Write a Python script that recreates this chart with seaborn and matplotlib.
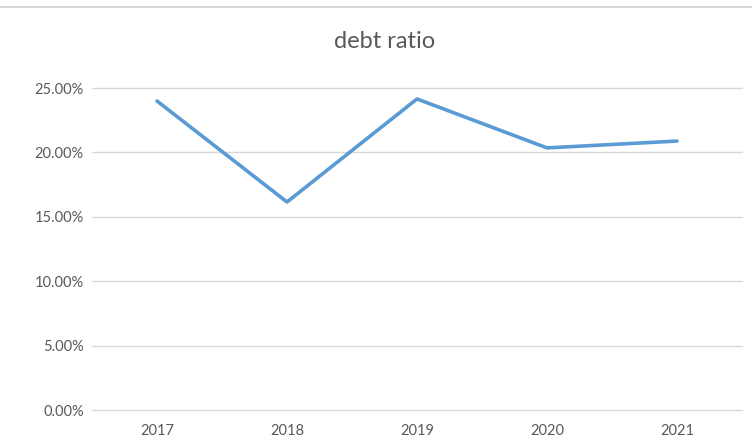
import matplotlib
matplotlib.use("Agg")
import matplotlib.pyplot as plt
import seaborn as sns
import pandas as pd
from matplotlib.ticker import PercentFormatter
from matplotlib.lines import Line2D

years = ["2017", "2018", "2019", "2020", "2021"]
debt_ratio = [0.2399, 0.1615, 0.2415, 0.2035, 0.2088]
y_ticks = [0.0, 0.05, 0.10, 0.15, 0.20, 0.25]

sns.set_theme(style="white")
plt.rcParams['font.family'] = ['Lato', 'DejaVu Sans']

df = pd.DataFrame({"year": years, "ratio": debt_ratio})

fig = plt.figure(figsize=(7.52, 4.44), dpi=100)
ax = fig.add_axes([92/752, (444-410)/444, 650/752, (410-88)/444])

sns.lineplot(data=df, x="year", y="ratio", ax=ax, color="#5B9BD5",
             linewidth=2.6, sort=False, solid_capstyle="round", solid_joinstyle="round")

ax.set_xlim(-0.5, 4.5)
ax.set_ylim(0, 0.25)
ax.set_yticks(y_ticks)
ax.yaxis.set_major_formatter(PercentFormatter(1.0, decimals=2))
ax.grid(axis="y", color="#D9D9D9", linewidth=1.0)
for gl in ax.get_ygridlines():
    gl.set_clip_on(False)
ax.set_axisbelow(True)
for s in ax.spines.values():
    s.set_visible(False)
ax.tick_params(axis="both", length=0, labelsize=10.5, colors="#595959", pad=6)
ax.tick_params(axis="x", pad=10)
ax.set_xlabel("")
ax.set_ylabel("")

fig.text(385/752, (444-42)/444, "debt ratio", ha="center", va="center",
         fontsize=17, color="#595959")
fig.add_artist(Line2D([0.0, 1.0], [(444-7)/444]*2, transform=fig.transFigure,
                      color="#D9D9D9", linewidth=1.5))

fig.savefig("out.png", dpi=100)
